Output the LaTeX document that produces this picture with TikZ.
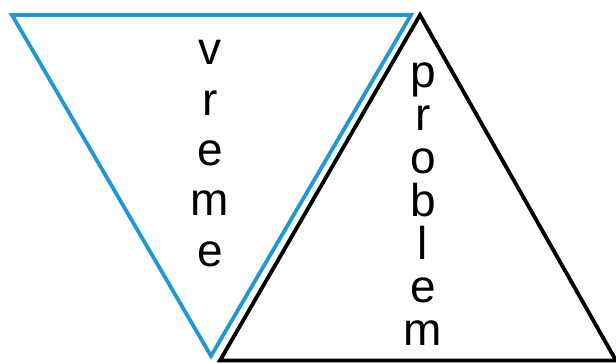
\documentclass[tikz,border=0pt]{standalone}
\usepackage{fontspec}
\setmainfont{Liberation Sans}
\definecolor{triblue}{RGB}{30,152,214}
\begin{document}
\begin{tikzpicture}[x=1pt,y=-1pt,
  edge/.style={line width=3.8pt,line join=miter},
  letter/.style={anchor=base,inner sep=0pt,font=\fontsize{46}{46}\selectfont}]
\useasboundingbox (0,0) rectangle (616,363);
\coordinate (b1) at (12,15);
\coordinate (b2) at (411,15);
\coordinate (b3) at (211,356);
\coordinate (k1) at (420,15);
\coordinate (k2) at (220,360.5);
\coordinate (k3) at (616,360.5);
\draw[edge,triblue] (b1) -- (b2) -- (b3) -- cycle;
\draw[edge,black] (k1) -- (k2) -- (k3) -- cycle;
\foreach \c [count=\i from 0] in {v,r,e,m,e}
  \node[letter] (v\i) at (210,{65+50.3*\i}) {\c};
\foreach \c [count=\i from 0] in {p,r,o,b,l,e,m}
  \node[letter] (p\i) at (423,{88+43*\i}) {\c};
\end{tikzpicture}
\end{document}
